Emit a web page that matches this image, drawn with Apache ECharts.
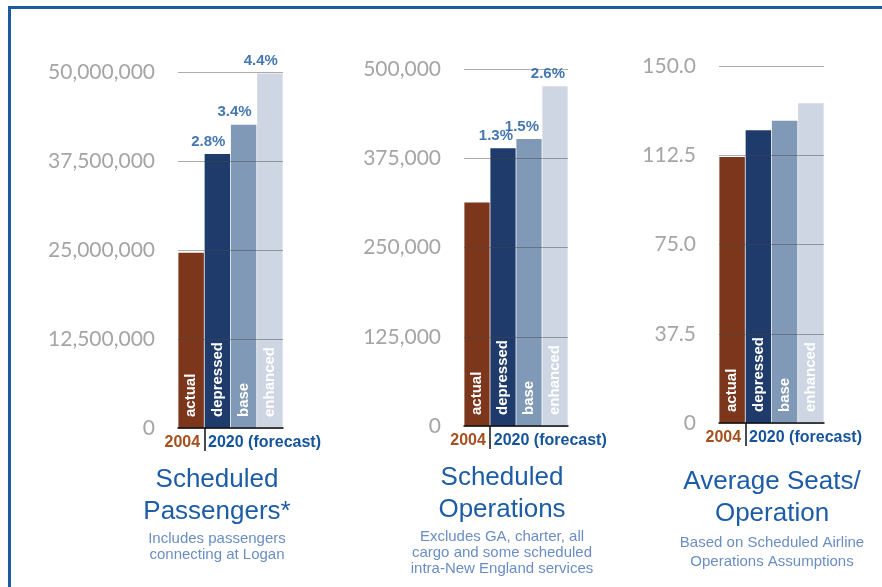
<!DOCTYPE html>
<html>
<head>
<meta charset="utf-8">
<script src="https://cdn.jsdelivr.net/npm/echarts@6.0.0/dist/echarts.min.js"></script>
<style>
  html, body { margin: 0; padding: 0; background: #fff; }
  #main { width: 882px; height: 587px; }
  .frame {
    position: absolute; left: 8px; top: 6px; width: 900px; height: 700px;
    border-left: 3px solid #1d5aa0; border-top: 3px solid #1d5aa0;
    pointer-events: none;
  }
</style>
</head>
<body>
<div id="main"></div>
<div class="frame"></div>
<script>
// bars in every panel
var categories = ["actual", "depressed", "base", "enhanced"];
var barColors = ["#7b361b", "#1f3b6b", "#7f99b6", "#cdd6e2"];
var yearLabels = ["2004", "2020 (forecast)"];

// scheduled passengers
var passengers = [24600000, 38500000, 42600000, 49800000];
var passengerGrowth = ["", "2.8%", "3.4%", "4.4%"];
// scheduled operations
var operations = [313000, 389000, 402000, 476000];
var operationGrowth = ["", "1.3%", "1.5%", "2.6%"];
// average seats per operation
var seats = [111.8, 123.0, 127.0, 134.3];
var seatGrowth = ["", "", "", ""];

var axisMax = [50000000, 500000, 150];
var axisStep = [12500000, 125000, 37.5];

var blue = "#15549c";
var brown = "#a5501e";
var font = "Liberation Sans, Arial";

var myChart = echarts.init(document.getElementById("main"));

var grids = [
  { left: 178, top: 72, width: 105, height: 356 },
  { left: 464, top: 69, width: 104, height: 357 },
  { left: 719, top: 66, width: 105, height: 357 },
];

var panelValues = [passengers, operations, seats];
var panelGrowth = [passengerGrowth, operationGrowth, seatGrowth];
var labelShift = [8, 10, 10];

var xAxes = [];
var yAxes = [];
var series = [];

for (let i = 0; i < 3; i++) {
  // axis for the bars
  xAxes.push({
    type: "category",
    gridIndex: i,
    position: "bottom",
    data: categories,
    z: 5,
    axisLine: { show: true, lineStyle: { color: "#111", width: 1.5 } },
    axisTick: { show: false },
    axisLabel: { show: false },
  });
  // axis for the year labels, ticks sit on the bar edges
  xAxes.push({
    type: "category",
    gridIndex: i,
    position: "bottom",
    boundaryGap: false,
    data: ["", "year", "", "", ""],
    z: 5,
    axisLine: { show: false },
    axisTick: {
      show: true,
      length: 23,
      interval: function (idx) {
        return idx === 1;
      },
      lineStyle: { color: "#111", width: 1.5 },
    },
    axisLabel: {
      interval: 0,
      margin: 7,
      formatter: function (v, idx) {
        return idx === 1 ? "{a|" + yearLabels[0] + "}{b|" + yearLabels[1] + "}" : "";
      },
      rich: {
        // left padding balances the longer forecast text so the tick sits between them
        a: { color: brown, fontWeight: "bold", fontSize: 16, fontFamily: font, padding: [0, 4, 0, 77] },
        b: { color: blue, fontWeight: "bold", fontSize: 16, fontFamily: font, padding: [0, 0, 0, 4] },
      },
    },
  });
  yAxes.push({
    type: "value",
    gridIndex: i,
    min: 0,
    max: axisMax[i],
    interval: axisStep[i],
    z: 4,
    axisLine: { show: false },
    axisTick: { show: false },
    splitLine: { lineStyle: { color: "rgba(70,70,70,0.45)", width: 1 } },
    axisLabel: {
      margin: 23,
      fontSize: 21,
      color: "#a5a5a5",
      fontFamily: "Lato",
      padding: [6, 0, 0, 0],
      formatter: function (v) {
        if (v === 0) return "0";
        if (i === 2) return v.toFixed(1);
        return v.toLocaleString("en-US");
      },
    },
  });
  series.push({
    type: "bar",
    xAxisIndex: i * 2,
    yAxisIndex: i,
    barCategoryGap: "3%",
    data: panelValues[i].map(function (v, k) {
      return { value: v, itemStyle: { color: barColors[k] } };
    }),
    label: {
      show: true,
      position: "insideBottom",
      rotate: 90,
      align: "left",
      verticalAlign: "middle",
      distance: 11,
      color: "#fff",
      fontWeight: "bold",
      fontSize: 15,
      fontFamily: font,
      formatter: function (p) {
        return categories[p.dataIndex];
      },
    },
  });
  series.push({
    type: "scatter",
    xAxisIndex: i * 2,
    yAxisIndex: i,
    symbolSize: 0,
    z: 6,
    data: panelValues[i],
    label: {
      show: true,
      position: "top",
      align: "right",
      offset: [labelShift[i], 0],
      distance: 5,
      color: blue,
      fontWeight: "bold",
      fontSize: 15,
      fontFamily: font,
      formatter: function (p) {
        return panelGrowth[i][p.dataIndex];
      },
    },
  });
}

function panelTitle(text, sub, x, y, subLine) {
  return {
    text: text,
    subtext: sub,
    left: x,
    top: y,
    textAlign: "center",
    itemGap: 3,
    textStyle: { fontSize: 26, fontWeight: "normal", color: "#1d5ca6", lineHeight: 32, fontFamily: font },
    subtextStyle: { fontSize: 15, lineHeight: subLine, color: "#6a8ec4", fontFamily: font },
  };
}

var option = {
  animation: false,
  title: [
    panelTitle("Scheduled\nPassengers*", "Includes passengers\nconnecting at Logan", 212, 459, 16),
    panelTitle("Scheduled\nOperations", "Excludes GA, charter, all\ncargo and some scheduled\nintra-New England services", 497, 457, 16),
    panelTitle("Average Seats/\nOperation", "Based on Scheduled Airline\nOperations Assumptions", 767, 461, 19),
  ],
  grid: grids,
  xAxis: xAxes,
  yAxis: yAxes,
  series: series,
};
myChart.setOption(option, true);
</script>
</body>
</html>
